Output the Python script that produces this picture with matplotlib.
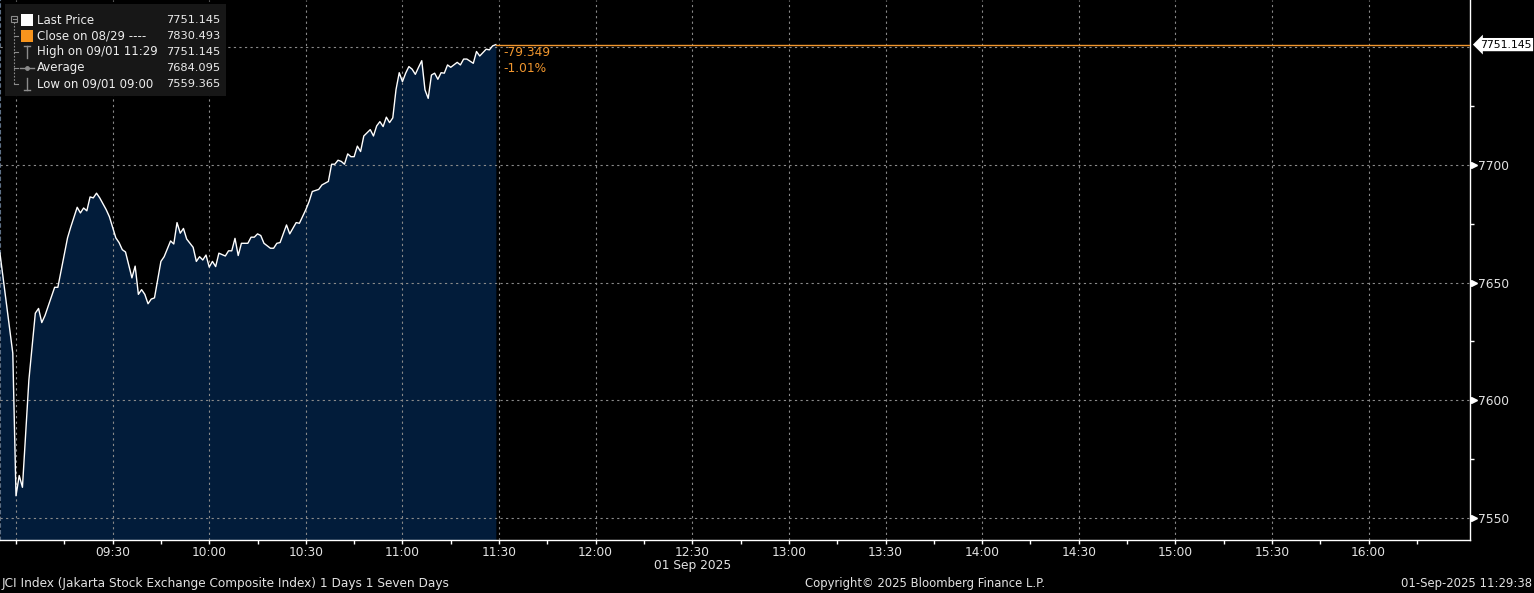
import matplotlib
matplotlib.use("Agg")
import matplotlib.pyplot as plt
import matplotlib.dates as mdates
import matplotlib.transforms as mtransforms
from matplotlib.ticker import FixedLocator, FuncFormatter
from matplotlib.patches import Rectangle
import pandas as pd

# JCI intraday, 01 Sep 2025 (minutes after 09:00 -> index level)
session_day = "2025-09-01"
minutes_from_open = [
    -5, -1, 0, 1, 2, 4, 6, 7, 8, 9, 10, 12, 13, 14, 16, 17, 19, 20, 21, 22,
    23, 24, 25, 26, 28, 29, 31, 32, 33, 34, 36, 37, 38, 39, 40, 41, 42, 43, 45, 46,
    48, 49, 50, 51, 52, 53, 55, 56, 57, 58, 59, 60, 61, 62, 63, 65, 66, 67, 68, 69,
    70, 72, 73, 74, 75, 76, 77, 79, 80, 81, 82, 84, 85, 87, 88, 90, 91, 92, 94, 95,
    97, 98, 99, 100, 101, 102, 103, 104, 105, 106, 107, 108, 110, 111, 112, 113, 114, 115, 116, 117,
    118, 119, 120, 121, 122, 123, 124, 125, 126, 127, 128, 129, 130, 131, 132, 133, 134, 135, 137, 138,
    139, 140, 142, 143, 144, 146, 147, 148, 149,
]
price = [
    7662.6, 7620.0, 7559.4, 7568.0, 7563.0, 7608.6, 7637.0, 7639.0, 7633.0, 7636.0,
    7640.0, 7648.0, 7648.0, 7655.0, 7669.0, 7673.6, 7682.0, 7679.6, 7681.7, 7680.5,
    7686.4, 7686.0, 7688.0, 7686.0, 7681.0, 7678.0, 7669.0, 7667.0, 7664.0, 7663.0,
    7652.0, 7657.0, 7645.0, 7647.0, 7645.0, 7641.0, 7643.0, 7643.5, 7659.0, 7661.0,
    7667.7, 7666.4, 7675.5, 7671.0, 7673.0, 7668.5, 7665.0, 7659.0, 7661.0, 7659.6,
    7661.7, 7656.6, 7659.0, 7656.8, 7662.5, 7661.3, 7663.5, 7663.5, 7668.8, 7661.5,
    7666.7, 7666.7, 7669.3, 7669.3, 7670.7, 7670.0, 7666.7, 7664.6, 7664.6, 7666.7,
    7667.0, 7674.5, 7670.7, 7675.5, 7675.2, 7681.0, 7684.4, 7688.7, 7689.6, 7691.5,
    7693.0, 7700.3, 7700.3, 7702.0, 7701.5, 7700.3, 7704.7, 7703.5, 7703.5, 7708.0,
    7705.7, 7712.3, 7715.0, 7712.3, 7716.6, 7718.4, 7716.3, 7720.3, 7718.0, 7720.0,
    7732.0, 7739.2, 7735.4, 7739.0, 7741.8, 7740.7, 7738.5, 7741.5, 7744.3, 7731.9,
    7728.3, 7738.2, 7739.0, 7736.4, 7739.2, 7739.0, 7742.5, 7741.5, 7743.6, 7742.5,
    7745.0, 7745.0, 7743.2, 7748.2, 7746.3, 7749.2, 7748.9, 7750.6, 7751.145,
]

prev_close = 7830.493
last_price = 7751.145
day_high = 7751.145
day_avg = 7684.095
day_low = 7559.365
change_text = "-79.349"
change_pct_text = "-1.01%"

legend_labels = ["Last Price", "Close on 08/29 ----", "High on 09/01 11:29",
                 "Average", "Low on 09/01 09:00"]
legend_values = [last_price, prev_close, day_high, day_avg, day_low]

y_major = [7550, 7600, 7650, 7700, 7750]
y_minor = [7575, 7625, 7675, 7725]

footer_left = "JCI Index (Jakarta Stock Exchange Composite Index) 1 Days 1 Seven Days"
footer_mid = "Copyright\u00a9 2025 Bloomberg Finance L.P."
footer_right = "01-Sep-2025 11:29:38"
date_label = "01 Sep 2025"

FILL = "#021c3a"
ORANGE = "#f0962e"
GRID = "#8a8a8a"
TXT = "#e2e2e2"
FONT = "DejaVu Sans"

W, H = 1534, 593
fig = plt.figure(figsize=(W / 100, H / 100), dpi=100, facecolor="black")
ax = fig.add_axes([0, 53 / H, 1470 / W, 540 / H], facecolor="black")

open_ts = pd.Timestamp(session_day + " 09:00")
t = mdates.date2num((open_ts + pd.to_timedelta(minutes_from_open, unit="min")).to_pydatetime())
t_open = mdates.date2num(open_ts.to_pydatetime())
one_min = 1 / 1440.0

x_lo = t_open - 4.97 * one_min
x_hi = t_open + 451.5 * one_min
y_lo, y_hi = 7540.6, 7770.1

ax.fill_between(t, price, y_lo, color=FILL, lw=0, zorder=1)
ax.plot(t, price, color="white", lw=1.0, zorder=3)
ax.plot([t[-1], x_hi], [last_price, last_price], color=ORANGE, lw=1.0, zorder=3)

ax.set_xlim(x_lo, x_hi)
ax.set_ylim(y_lo, y_hi)

# x axis: every 30 min labelled, 15 min minor ticks
major_x = [t_open + m * one_min for m in range(0, 421, 30)]
minor_x = [t_open + m * one_min for m in range(15, 436, 30)]
ax.xaxis.set_major_locator(FixedLocator(major_x))
ax.xaxis.set_minor_locator(FixedLocator(minor_x))
ax.xaxis.set_major_formatter(FuncFormatter(
    lambda v, p: "" if abs(v - t_open) < 1e-6 else mdates.num2date(v).strftime("%H:%M")))

ax.yaxis.tick_right()
ax.yaxis.set_major_locator(FixedLocator(y_major))
ax.yaxis.set_minor_locator(FixedLocator(y_minor))
ax.yaxis.set_major_formatter(FuncFormatter(lambda v, p: "" if v >= 7750 else f"{v:.0f}"))

ax.tick_params(axis="x", which="both", direction="out", length=3, width=1,
               color="white", labelcolor=TXT, labelsize=8.8, pad=1.5)
ax.tick_params(axis="y", which="major", length=0, labelcolor=TXT, labelsize=8.8, pad=5.5)
ax.tick_params(axis="y", which="minor", direction="out", length=3, width=1, color="white")
for lab in ax.get_xticklabels() + ax.get_yticklabels():
    lab.set_fontfamily(FONT)

ax.grid(True, which="major", color=GRID, ls=(0, (2, 3)), lw=0.8)
ax.set_axisbelow(False)

ax.spines["top"].set_visible(False)
ax.spines["left"].set_color("#5d6f85")
ax.spines["left"].set_linestyle((0, (3, 3)))
for s in ("bottom", "right"):
    ax.spines[s].set_color("white")
    ax.spines[s].set_linewidth(1.0)

# little right-pointing markers at labelled y ticks
edge = mtransforms.blended_transform_factory(ax.transAxes, ax.transData)
tri = mtransforms.offset_copy(edge, fig=fig, x=3.5, y=0, units="dots")
ax.plot([1.0] * 4, y_major[:4], ls="none", marker=">", ms=4.5, color="white",
        transform=tri, clip_on=False)

ax.annotate(f"{last_price:.3f}", xy=(1.0, last_price), xycoords=edge,
            xytext=(10, 0), textcoords="offset pixels", ha="left", va="center",
            color="black", fontsize=7.8, family=FONT,
            bbox=dict(boxstyle="larrow,pad=0.15", fc="white", ec="none"))

ax.annotate(change_text, xy=(t[-1], last_price), xytext=(8, -8),
            textcoords="offset pixels", ha="left", va="center",
            color=ORANGE, fontsize=8.8, family=FONT)
ax.annotate(change_pct_text, xy=(t[-1], last_price), xytext=(8, -24),
            textcoords="offset pixels", ha="left", va="center",
            color=ORANGE, fontsize=8.8, family=FONT)

xedge = mtransforms.blended_transform_factory(ax.transData, ax.transAxes)
ax.annotate(date_label, xy=(t_open + 210 * one_min, 0), xycoords=xedge,
            xytext=(0, -26), textcoords="offset pixels", ha="center", va="center",
            color=TXT, fontsize=8.8, family=FONT, annotation_clip=False)

# legend panel, drawn in figure pixels
ov = fig.add_axes([0, 0, 1, 1])
ov.set_xlim(0, W)
ov.set_ylim(H, 0)
ov.set_axis_off()
ov.patch.set_visible(False)
ov.set_zorder(5)

ov.add_patch(Rectangle((5, 4), 221, 92, fc="#171717", ec="none"))
rows = [20, 36, 52, 68, 84]
LG = "#8c8c8c"
for lbl, val, ry in zip(legend_labels, legend_values, rows):
    ov.text(37, ry, lbl, ha="left", va="center", color="#ececec", fontsize=8.5, family=FONT)
    ov.text(220, ry, f"{val:.3f}", ha="right", va="center", color="#ececec",
            fontsize=8.2, family=FONT)

ov.add_patch(Rectangle((21, rows[0] - 6), 12, 12, fc="white", ec="none"))
ov.add_patch(Rectangle((21, rows[1] - 6), 12, 12, fc="#f7941d", ec="none"))
# high / average / low glyphs
ov.plot([27, 27], [rows[2] - 6, rows[2] + 6], color=LG, lw=1)
ov.plot([24, 30], [rows[2] - 6, rows[2] - 6], color=LG, lw=1)
ov.plot([20, 34], [rows[3], rows[3]], color=LG, lw=1)
ov.plot([27], [rows[3]], marker="o", ms=2.5, color=LG)
ov.plot([27, 27], [rows[4] - 6, rows[4] + 6], color=LG, lw=1)
ov.plot([24, 30], [rows[4] + 6, rows[4] + 6], color=LG, lw=1)
# tree connector
ov.add_patch(Rectangle((11, 16), 6, 6, fc="none", ec=LG, lw=0.8))
ov.plot([12.5, 15.5], [19, 19], color=LG, lw=0.8)
ov.plot([14, 14], [22, rows[4]], color=LG, lw=0.8, ls=(0, (1.5, 1.5)))
for ry in rows[1:]:
    ov.plot([14, 18], [ry, ry], color=LG, lw=0.8)

# footer
fy = 1 - 584 / H
fig.text(2 / W, fy, footer_left, ha="left", va="center", color=TXT, fontsize=8.75, family=FONT)
fig.text(805 / W, fy, footer_mid, ha="left", va="center", color=TXT, fontsize=8.4, family=FONT)
fig.text(1532 / W, fy, footer_right, ha="right", va="center", color=TXT, fontsize=8.4, family=FONT)

fig.savefig("out.png", dpi=100, facecolor="black")
